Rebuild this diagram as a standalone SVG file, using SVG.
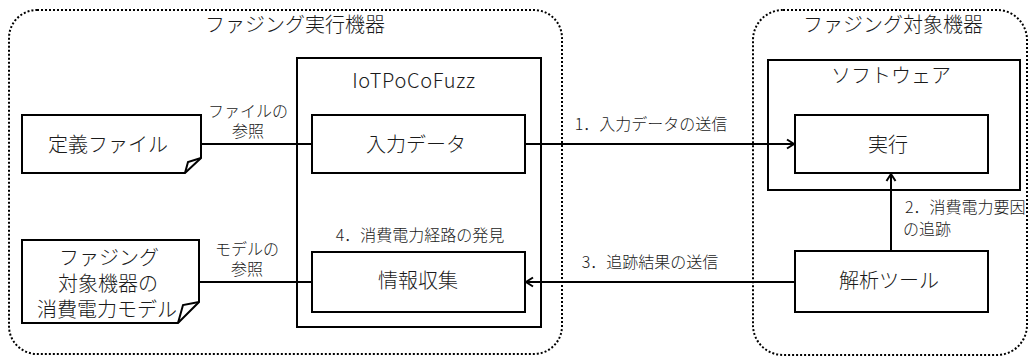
<svg xmlns="http://www.w3.org/2000/svg" width="1029" height="363" viewBox="0 0 1029 363">
<style>
text{font-family:"Noto Sans CJK JP","Noto Sans",sans-serif;font-weight:300;fill:#1a1a1a;text-anchor:middle}
.t20{font-size:20px}
.t16{font-size:16px}
.box{fill:#fff;stroke:#000;stroke-width:2}
.grp{fill:none;stroke:#000;stroke-width:2;stroke-dasharray:2 2}
.line{fill:none;stroke:#000;stroke-width:2}
</style>
<defs>
<marker id="arr" viewBox="-9 -6 11 12" refX="0" refY="0" markerWidth="11" markerHeight="12" markerUnits="userSpaceOnUse" orient="auto">
<path d="M-7,-4.5 L0,0 L-7,4.5" fill="none" stroke="#000" stroke-width="2"/>
</marker>
</defs>
<g id="executor">
<rect class="grp" x="9" y="10" width="553" height="344" rx="28"/>
<text class="t20" x="295" y="32">ファジング実行機器</text>
</g>
<g id="target">
<rect class="grp" x="753" y="10" width="274" height="345" rx="30"/>
<text class="t20" x="893" y="32">ファジング対象機器</text>
</g>
<g id="iotpocofuzz">
<rect class="box" x="297" y="58" width="244" height="269"/>
<text class="t20" x="414" y="88" style="letter-spacing:0.7px">IoTPoCoFuzz</text>
</g>
<g id="software">
<rect class="box" x="768" y="60" width="252" height="130"/>
<text class="t20" x="891" y="83">ソフトウェア</text>
</g>
<g id="connectors">
<line class="line" x1="201" y1="144" x2="312" y2="144"/>
<line class="line" x1="199" y1="282" x2="312" y2="282"/>
<line class="line" x1="525" y1="144" x2="794" y2="144" marker-end="url(#arr)"/>
<line class="line" x1="795" y1="282" x2="526" y2="282" marker-end="url(#arr)"/>
<line class="line" x1="891" y1="251" x2="891" y2="174" marker-end="url(#arr)"/>
<text class="t16"><tspan x="248" y="117">ファイルの</tspan><tspan x="248" y="137">参照</tspan></text>
<text class="t16"><tspan x="247" y="255">モデルの</tspan><tspan x="247" y="275">参照</tspan></text>
<text class="t16" x="420" y="241">4．消費電力経路の発見</text>
<text class="t16" x="651" y="130">1．入力データの送信</text>
<text class="t16" x="650" y="268">3．追跡結果の送信</text>
<text class="t16" style="text-anchor:start"><tspan x="905" y="213">2．消費電力要因</tspan><tspan x="903" y="235">の追跡</tspan></text>
</g>
<g id="definition">
<path class="box" d="M22,115 H201 V158 L185,173 H22 Z"/>
<path class="line" d="M185,173 L188,162 L201,158"/>
<text class="t20" x="108" y="152">定義ファイル</text>
</g>
<g id="model">
<path class="box" d="M22,240 H199 V302 L178,323 H22 Z"/>
<path class="line" d="M178,323 L183,305 L199,302"/>
<text class="t20"><tspan x="109" y="265">ファジング</tspan><tspan x="108" y="291">対象機器の</tspan><tspan x="107" y="317">消費電力モデル</tspan></text>
</g>
<g id="input">
<rect class="box" x="312" y="115" width="213" height="58"/>
<text class="t20" x="416" y="152">入力データ</text>
</g>
<g id="collect">
<rect class="box" x="312" y="252" width="213" height="60"/>
<text class="t20" x="418" y="288">情報収集</text>
</g>
<g id="exec">
<rect class="box" x="795" y="115" width="193" height="58"/>
<text class="t20" x="888" y="152">実行</text>
</g>
<g id="analyzer">
<rect class="box" x="795" y="251" width="193" height="61"/>
<text class="t20" x="889" y="288">解析ツール</text>
</g>
</svg>
